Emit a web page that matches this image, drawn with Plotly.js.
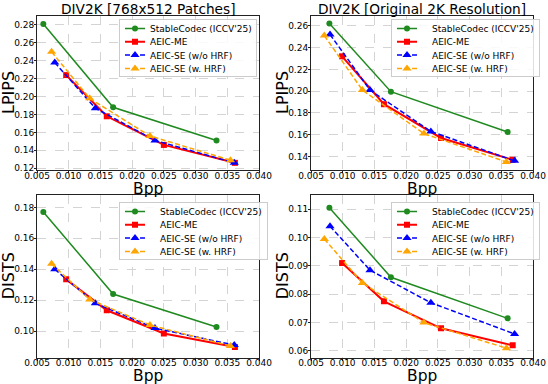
<!DOCTYPE html>
<html>
<head>
<meta charset="utf-8">
<script src="https://cdn.plot.ly/plotly-3.0.1.min.js"></script>
<style>
  html, body { margin: 0; padding: 0; background: #fff; }
  #chart { width: 548px; height: 384px; }
</style>
</head>
<body>
<div id="chart"></div>
<script>
// ---- data ------------------------------------------------------------
const seriesNames = ["StableCodec (ICCV'25)", 'AEIC-ME', 'AEIC-SE (w/o HRF)', 'AEIC-SE (w. HRF)'];
const xTicks = [0.005, 0.010, 0.015, 0.020, 0.025, 0.030, 0.035, 0.040];

// DIV2K 768x512 patches
const patchScBpp  = [0.0060, 0.0170, 0.0333];
const patchMeBpp  = [0.0096, 0.0160, 0.0250, 0.0362];
const patchSeBpp  = [0.0078, 0.0142, 0.0236, 0.0361];
const patchHrfBpp = [0.0073, 0.0133, 0.0228, 0.0355];
const patchScLpips  = [0.281, 0.188, 0.151];
const patchMeLpips  = [0.224, 0.178, 0.146, 0.126];
const patchSeLpips  = [0.238, 0.187, 0.151, 0.126];
const patchHrfLpips = [0.250, 0.198, 0.156, 0.129];
const patchScDists  = [0.1770, 0.1240, 0.1027];
const patchMeDists  = [0.1335, 0.1135, 0.0985, 0.0898];
const patchSeDists  = [0.1400, 0.1180, 0.1020, 0.0910];
const patchHrfDists = [0.1435, 0.1205, 0.1040, 0.0905];

// DIV2K original 2K resolution
const fullScBpp  = [0.0079, 0.0176, 0.0360];
const fullMeBpp  = [0.0099, 0.0165, 0.0255, 0.0368];
const fullSeBpp  = [0.0080, 0.0143, 0.0239, 0.0371];
const fullHrfBpp = [0.0071, 0.0131, 0.0228, 0.0358];
const fullScLpips  = [0.262, 0.1995, 0.1625];
const fullMeLpips  = [0.232, 0.188, 0.157, 0.137];
const fullSeLpips  = [0.252, 0.201, 0.163, 0.136];
const fullHrfLpips = [0.251, 0.201, 0.161, 0.135];
const fullScDists  = [0.1105, 0.0860, 0.0715];
const fullMeDists  = [0.0910, 0.0775, 0.0680, 0.0620];
const fullSeDists  = [0.1040, 0.0885, 0.0770, 0.0660];
const fullHrfDists = [0.0995, 0.0840, 0.0700, 0.0610];

const lpipsTicksA = [0.12, 0.14, 0.16, 0.18, 0.20, 0.22, 0.24, 0.26, 0.28];
const lpipsTicksB = [0.14, 0.16, 0.18, 0.20, 0.22, 0.24, 0.26];
const distsTicksA = [0.10, 0.12, 0.14, 0.16, 0.18];
const distsTicksB = [0.06, 0.07, 0.08, 0.09, 0.10, 0.11];

// ---- styling -----------------------------------------------------------
const FONT = 'DejaVu Sans, sans-serif';
const styles = [
  { color: '#1f8a1f', dash: 'solid', symbol: 'circle', size: 6, width: 1.5 },
  { color: '#ff0000', dash: 'solid', symbol: 'square', size: 6, width: 2 },
  { color: '#0000ff', dash: '5px,2.5px', symbol: 'triangle-up', size: 8, width: 1.5 },
  { color: '#ffa500', dash: '5px,2.5px', symbol: 'triangle-up', size: 8, width: 1.5 },
];

const panels = [
  { xs: [patchScBpp, patchMeBpp, patchSeBpp, patchHrfBpp],
    ys: [patchScLpips, patchMeLpips, patchSeLpips, patchHrfLpips],
    ticks: lpipsTicksA, range: [0.118, 0.290], ytitle: 'LPIPS' },
  { xs: [fullScBpp, fullMeBpp, fullSeBpp, fullHrfBpp],
    ys: [fullScLpips, fullMeLpips, fullSeLpips, fullHrfLpips],
    ticks: lpipsTicksB, range: [0.1276, 0.269], ytitle: 'LPIPS' },
  { xs: [patchScBpp, patchMeBpp, patchSeBpp, patchHrfBpp],
    ys: [patchScDists, patchMeDists, patchSeDists, patchHrfDists],
    ticks: distsTicksA, range: [0.083, 0.188], ytitle: 'DISTS' },
  { xs: [fullScBpp, fullMeBpp, fullSeBpp, fullHrfBpp],
    ys: [fullScDists, fullMeDists, fullSeDists, fullHrfDists],
    ticks: distsTicksB, range: [0.0577, 0.1150], ytitle: 'DISTS' },
];

// pixel boxes of the four plot frames: [left, right, top, bottom]
const W = 548, H = 384;
const boxes = [
  [37, 259, 16, 170],
  [311, 533, 16, 170],
  [37, 259, 195, 357.5],
  [311, 533, 195, 357.5],
];
const legendPos = [[119, 19], [391, 19], [119, 202], [391, 202]];
const xTitleY = [188.5, 188.5, 376, 376];

const traces = [];
const layout = {
  width: W, height: H,
  margin: { l: 0, r: 0, t: 0, b: 0, autoexpand: false },
  paper_bgcolor: '#fff', plot_bgcolor: '#fff',
  font: { family: FONT, color: '#000', size: 9 },
  showlegend: true,
  annotations: [],
};

const label = (text, px, py, size, angle) => ({
  text, x: px / W, y: 1 - py / H, xref: 'paper', yref: 'paper',
  showarrow: false, xanchor: 'center', yanchor: 'middle', textangle: angle || 0,
  font: { family: FONT, size, color: '#000' },
});

panels.forEach((p, i) => {
  const n = i + 1;
  const sfx = n === 1 ? '' : String(n);
  const [l, r, t, b] = boxes[i];
  const legName = 'legend' + sfx;

  p.xs.forEach((xs, k) => {
    const s = styles[k];
    traces.push({
      type: 'scatter', mode: 'lines+markers',
      x: xs, y: p.ys[k], name: seriesNames[k],
      xaxis: 'x' + sfx, yaxis: 'y' + sfx, legend: legName,
      line: { color: s.color, dash: s.dash, width: s.width },
      marker: { color: s.color, symbol: s.symbol, size: s.size },
    });
  });

  const axCommon = {
    showline: true, mirror: true, linecolor: '#222', linewidth: 1,
    ticks: 'outside', ticklen: 2, tickcolor: '#222', tickwidth: 1,
    showgrid: true, gridcolor: '#d4d4d4', griddash: 'dash', gridwidth: 1,
    zeroline: false, tickfont: { family: FONT, size: 9, color: '#000' },
  };
  layout['xaxis' + sfx] = {
    ...axCommon,
    domain: [l / W, r / W], anchor: 'y' + sfx,
    range: [0.005, 0.040], tickvals: xTicks, tickformat: '.3f',
    ticklabelstandoff: -5,
  };
  layout['yaxis' + sfx] = {
    ...axCommon,
    domain: [1 - b / H, 1 - t / H], anchor: 'x' + sfx,
    range: p.range, tickvals: p.ticks, tickformat: '.2f',
    ticklabelstandoff: -2,
  };
  layout[legName] = {
    x: legendPos[i][0] / W, y: 1 - legendPos[i][1] / H,
    xanchor: 'left', yanchor: 'top',
    bgcolor: 'rgba(255,255,255,0.85)', bordercolor: '#cccccc', borderwidth: 1,
    font: { family: FONT, size: 9, color: '#000' },
    tracegroupgap: 0, itemwidth: 30,
  };

  layout.annotations.push(
    label('Bpp', (l + r) / 2, xTitleY[i], 15.5),
    label(p.ytitle, l - 29, (t + b) / 2, 16, -90)
  );
});

layout.annotations.push(
  label('DIV2K [768x512 Patches]', (37 + 259) / 2, 9, 13.7),
  label('DIV2K [Original 2K Resolution]', (311 + 533) / 2, 9, 13.7)
);

// Plotly keeps legend rows at >= 19px; squeeze them to matplotlib spacing.
// Works from screen positions, so it is safe to call again after a relayout.
const ROW = 13.3, TOP = 9.5;
const translateOf = (el) => {
  const m = /translate\(\s*([-\d.]+)[ ,]+([-\d.]+)/.exec(el.getAttribute('transform') || '');
  return m ? [+m[1], +m[2]] : [0, 0];
};
function compactLegends() {
  const gd = document.getElementById('chart');
  const box = gd.getBoundingClientRect();
  gd.querySelectorAll('g').forEach((leg) => {
    const m = /^legend(\d*)$/.exec(leg.getAttribute('class') || '');
    if (!m) return;
    const idx = m[1] ? +m[1] - 1 : 0;
    const bg = leg.querySelector('rect.bg');
    const items = leg.querySelectorAll('g.traces');
    if (!bg || !items.length || !legendPos[idx]) return;

    let textW = 0;
    items.forEach((g) => {
      g.querySelectorAll('.legendlines path').forEach((pth) => pth.setAttribute('d', 'M5,0h20'));
      g.querySelectorAll('.legendpoints path.scatterpts').forEach((pth) => pth.setAttribute('transform', 'translate(15,0)'));
      g.querySelectorAll('text.legendtext').forEach((tx) => {
        tx.setAttribute('x', 30);
        tx.querySelectorAll('tspan').forEach((ts) => ts.hasAttribute('x') && ts.setAttribute('x', 30));
        try { textW = Math.max(textW, tx.getBBox().width); } catch (_) {}
      });
    });
    bg.setAttribute('height', 2 * TOP + (items.length - 1) * ROW - 1);
    if (textW) bg.setAttribute('width', 30 + textW + 6);

    // pin the legend box to its matplotlib spot
    let r = bg.getBoundingClientRect();
    const [lx, ly] = translateOf(leg);
    const dx = legendPos[idx][0] - (r.left - box.left);
    const dy = legendPos[idx][1] - (r.top - box.top);
    leg.setAttribute('transform', `translate(${lx + dx},${ly + dy})`);
    r = bg.getBoundingClientRect();

    items.forEach((g, k) => {
      const pm = g.parentNode.getScreenCTM();
      g.setAttribute('transform', `translate(${r.left + 1 - pm.e},${r.top + TOP + k * ROW - pm.f})`);
    });
  });
}

const gd = document.getElementById('chart');
Plotly.newPlot(gd, traces, layout, { displayModeBar: false, staticPlot: true })
  .then(() => {
    compactLegends();
    gd.on('plotly_afterplot', compactLegends);
    [0, 30, 100, 300, 800].forEach((ms) => setTimeout(compactLegends, ms));
  });
</script>
</body>
</html>
